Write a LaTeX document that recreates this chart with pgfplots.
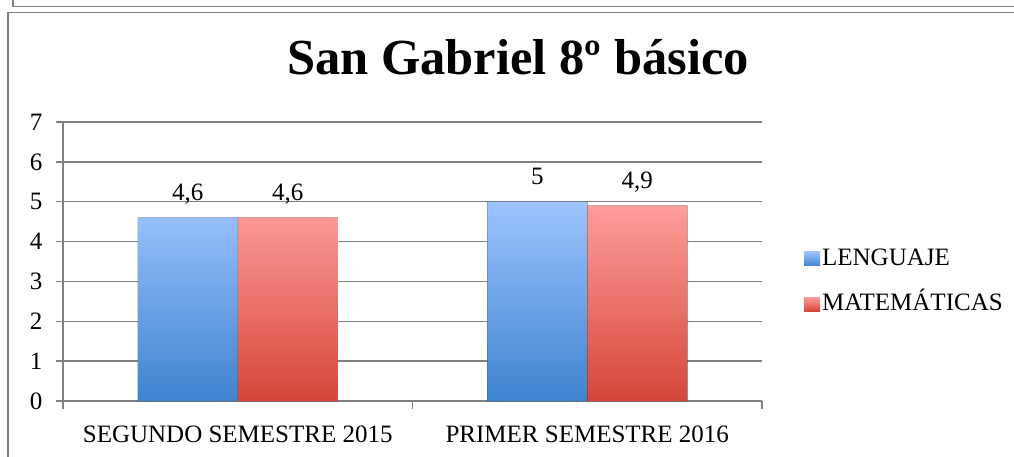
\documentclass[border=0pt]{standalone}
\usepackage{fontspec}
\setmainfont{Liberation Serif}
\usepackage{pgfplots}
\pgfplotsset{compat=1.18}
\definecolor{gridgray}{HTML}{808080}
\definecolor{bluetop}{HTML}{9DC3FF}
\definecolor{bluebot}{HTML}{3E83CF}
\definecolor{redtop}{HTML}{FF9D9A}
\definecolor{redbot}{HTML}{D4463B}
\begin{document}
\begin{tikzpicture}[x=1pt,y=1pt]
\useasboundingbox (0,0) rectangle (1014,-457);
\draw[gridgray, line width=1.3pt] (13,0) -- (13,-6.5) -- (1014,-6.5);
\draw[gridgray, line width=1.3pt] (8,-457) -- (8,-12.5) -- (1014,-12.5);
\begin{axis}[
  at={(63pt,-401pt)}, anchor=south west,
  scale only axis, width=699pt, height=279pt,
  xmin=-0.5, xmax=1.5, ymin=0, ymax=7,
  ytick={0,1,2,3,4,5,6,7},
  xtick={0,1},
  xticklabels={SEGUNDO SEMESTRE 2015, PRIMER SEMESTRE 2016},
  minor xtick={-0.5,0.5,1.5},
  major x tick style={draw=none},
  tick align=outside,
  major tick length=7pt, minor tick length=8pt,
  axis x line*=bottom, axis y line*=left,
  axis line style={gridgray, line width=1.3pt, -},
  tick style={gridgray, line width=1.3pt},
  ymajorgrids, major grid style={gridgray, line width=1.3pt},
  ybar=0pt, bar width=100pt,
  nodes near coords,
  nodes near coords style={anchor=base, yshift=17pt, font=\fontsize{25}{30}\selectfont, text=black},
  /pgf/number format/use comma,
  /pgf/number format/assume math mode=true,
  ticklabel style={font=\fontsize{25}{30}\selectfont, text=black},
  yticklabel style={xshift=-10pt},
  xticklabel style={yshift=-14pt},
  title={San Gabriel 8º básico},
  title style={at={(0.651,1.1505)}, anchor=base, font=\bfseries\fontsize{50.5}{60}\selectfont},
  legend style={at={(1.06,0.5585)}, anchor=north west, draw=none, fill=none, inner sep=0pt,
    font=\fontsize{25}{30}\selectfont, row sep=18.3pt,
    nodes={text height=18pt, text depth=5pt}},
  legend cell align=left,
]
\addplot[fill, draw=none, top color=bluetop, bottom color=bluebot,
  legend image code/.code={\shade[top color=bluetop,bottom color=bluebot] (0pt,-7pt) rectangle (16pt,7pt);}]
  coordinates {(0,4.6) (1,5)};
\addplot[fill, draw=none, top color=redtop, bottom color=redbot,
  legend image code/.code={\shade[top color=redtop,bottom color=redbot] (0pt,-7pt) rectangle (16pt,7pt);}]
  coordinates {(0,4.6) (1,4.9)};
\legend{LENGUAJE, MATEMÁTICAS}
\end{axis}
\end{tikzpicture}
\end{document}
